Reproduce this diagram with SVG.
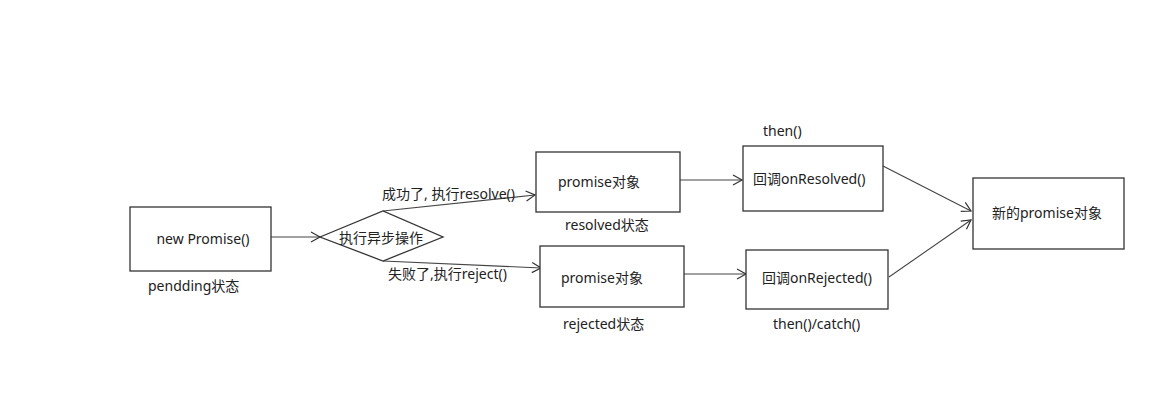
<svg xmlns="http://www.w3.org/2000/svg" width="1165" height="409" viewBox="0 0 1165 409">
<defs>
<marker id="arr" markerUnits="userSpaceOnUse" markerWidth="12" markerHeight="12" refX="10" refY="6" orient="auto">
<path d="M1,1 L10,6 L1,11" fill="none" stroke="#333" stroke-width="1.2"/>
</marker>
</defs>
<style>
.box{fill:#fff;stroke:#333;stroke-width:1.3}
.t{font-family:"Noto Sans","Noto Sans CJK SC",sans-serif;font-size:14px;fill:#222;dominant-baseline:central}
.c{fill:none;stroke:#444;stroke-width:1.1;marker-end:url(#arr)}
</style>
<rect width="1165" height="409" fill="#fff"/>
<g id="connectors">
<line class="c" x1="271" y1="237" x2="320" y2="237"/>
<line class="c" x1="383" y1="211" x2="535" y2="195"/>
<line class="c" x1="383" y1="261" x2="541" y2="268"/>
<line class="c" x1="680" y1="180" x2="742" y2="180"/>
<line class="c" x1="684" y1="274" x2="746" y2="274"/>
<line class="c" x1="883" y1="166" x2="971" y2="211"/>
<line class="c" x1="889" y1="277" x2="971" y2="220"/>
<text class="t" x="382" y="193">成功了, 执行resolve()</text>
<text class="t" x="388" y="273">失败了,执行reject()</text>
</g>
<g id="newPromise">
<rect class="box" x="130" y="207" width="141" height="64"/>
<text class="t" x="203" y="238" text-anchor="middle">new Promise()</text>
<text class="t" x="148" y="285">pendding状态</text>
</g>
<g id="async">
<polygon class="box" points="320,237 383,211 443,237 383,261"/>
<text class="t" x="381" y="237" text-anchor="middle">执行异步操作</text>
</g>
<g id="resolved">
<rect class="box" x="536" y="152" width="144" height="60"/>
<text class="t" x="558" y="181">promise对象</text>
<text class="t" x="565" y="224">resolved状态</text>
</g>
<g id="rejected">
<rect class="box" x="540" y="246" width="144" height="61"/>
<text class="t" x="561" y="277">promise对象</text>
<text class="t" x="563" y="323">rejected状态</text>
</g>
<g id="onResolved">
<rect class="box" x="743" y="146" width="140" height="65"/>
<text class="t" x="753" y="178">回调onResolved()</text>
<text class="t" x="763" y="130">then()</text>
</g>
<g id="onRejected">
<rect class="box" x="746" y="250" width="142" height="59"/>
<text class="t" x="762" y="277">回调onRejected()</text>
<text class="t" x="773" y="323">then()/catch()</text>
</g>
<g id="newObj">
<rect class="box" x="973" y="178" width="151" height="71"/>
<text class="t" x="992" y="212">新的promise对象</text>
</g>
</svg>
